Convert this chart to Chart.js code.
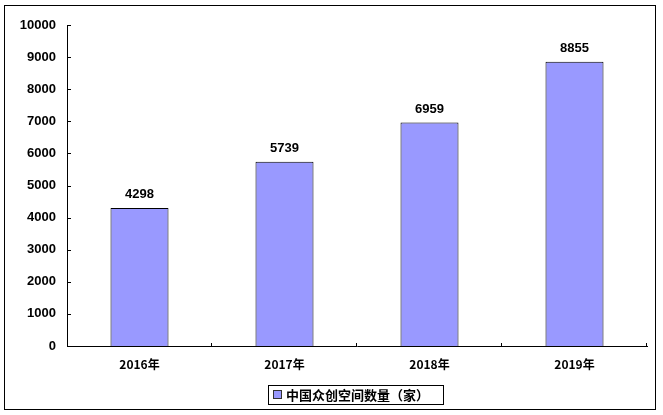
<!DOCTYPE html>
<html>
<head>
<meta charset="utf-8">
<script src="https://cdn.jsdelivr.net/npm/chart.js@4/dist/chart.umd.min.js"></script>
<style>
html,body{margin:0;padding:0;background:#fff;}
#wrap{width:663px;height:415px;position:relative;}
</style>
</head>
<body>
<div id="wrap"><canvas id="c" width="663" height="415"></canvas></div>
<script>
const categories = ['2016年', '2017年', '2018年', '2019年'];
const seriesName = '中国众创空间数量（家）';
const values = [4298, 5739, 6959, 8855];
const yTicks = [0, 1000, 2000, 3000, 4000, 5000, 6000, 7000, 8000, 9000, 10000];

const barColor = '#9999FF';

const decor = {
  id: 'decor',
  afterDraw(chart) {
    const ctx = chart.ctx;
    const a = chart.chartArea;
    const ys = chart.scales.y;
    ctx.save();
    ctx.strokeStyle = '#000';
    ctx.lineWidth = 1;
    // outer border
    ctx.strokeRect(4.5, 5.5, 651, 404);
    // y ticks (inside)
    yTicks.forEach(v => {
      const y = Math.round(ys.getPixelForValue(v)) + 0.5;
      ctx.beginPath();
      ctx.moveTo(a.left, y);
      ctx.lineTo(a.left + 4, y);
      ctx.stroke();
    });
    // x ticks at category boundaries (inside)
    const n = categories.length;
    const w = (a.right - a.left) / n;
    for (let i = 1; i <= n; i++) {
      const x = Math.round(a.left + i * w) - 0.5;
      ctx.beginPath();
      ctx.moveTo(x, a.bottom);
      ctx.lineTo(x, a.bottom - 3);
      ctx.stroke();
    }
    // data labels
    ctx.fillStyle = '#000';
    ctx.font = 'bold 13px "Liberation Sans", Arial, sans-serif';
    ctx.textAlign = 'center';
    ctx.textBaseline = 'bottom';
    const meta = chart.getDatasetMeta(0);
    meta.data.forEach((bar, i) => {
      ctx.fillText(String(values[i]), bar.x, bar.y - 7);
    });
    // legend
    const lx = 268.5, ly = 385.5, lw = 175, lh = 19;
    ctx.strokeRect(lx, ly, lw, lh);
    ctx.fillStyle = barColor;
    ctx.fillRect(274, 391, 7, 7);
    ctx.strokeStyle = '#333';
    ctx.strokeRect(273.5, 390.5, 8, 8);
    ctx.fillStyle = '#000';
    ctx.font = 'bold 13px "Noto Sans CJK SC", sans-serif';
    ctx.textAlign = 'left';
    ctx.textBaseline = 'middle';
    ctx.fillText(seriesName, 286, 395.5);
    ctx.restore();
  }
};

new Chart(document.getElementById('c'), {
  type: 'bar',
  data: {
    labels: categories,
    datasets: [{
      label: seriesName,
      data: values,
      backgroundColor: barColor,
      borderColor: '#000',
      borderWidth: 1,
      borderSkipped: 'bottom',
      barPercentage: 0.4,
      categoryPercentage: 1.0
    }]
  },
  options: {
    responsive: false,
    animation: false,
    devicePixelRatio: 1,
    layout: { padding: { left: 0, right: 16, top: 25, bottom: 0 } },
    plugins: { legend: { display: false }, tooltip: { enabled: false } },
    scales: {
      x: {
        offset: true,
        grid: { display: false, drawTicks: false },
        border: { display: true, color: '#000', width: 1 },
        ticks: {
          color: '#000',
          padding: 11,
          font: { family: '"Noto Sans CJK SC", sans-serif', size: 12, weight: 'bold' }
        },
        afterFit(s) { s.height = 69; }
      },
      y: {
        min: 0, max: 10000,
        grid: { display: false, drawTicks: false },
        border: { display: true, color: '#000', width: 1 },
        afterBuildTicks(s) { s.ticks = yTicks.map(v => ({ value: v })); },
        ticks: {
          color: '#000',
          padding: 11,
          callback: v => String(v),
          font: { family: '"Liberation Sans", Arial, sans-serif', size: 13, weight: 'bold' }
        },
        afterFit(s) { s.width = 67; }
      }
    }
  },
  plugins: [decor]
});
</script>
</body>
</html>
